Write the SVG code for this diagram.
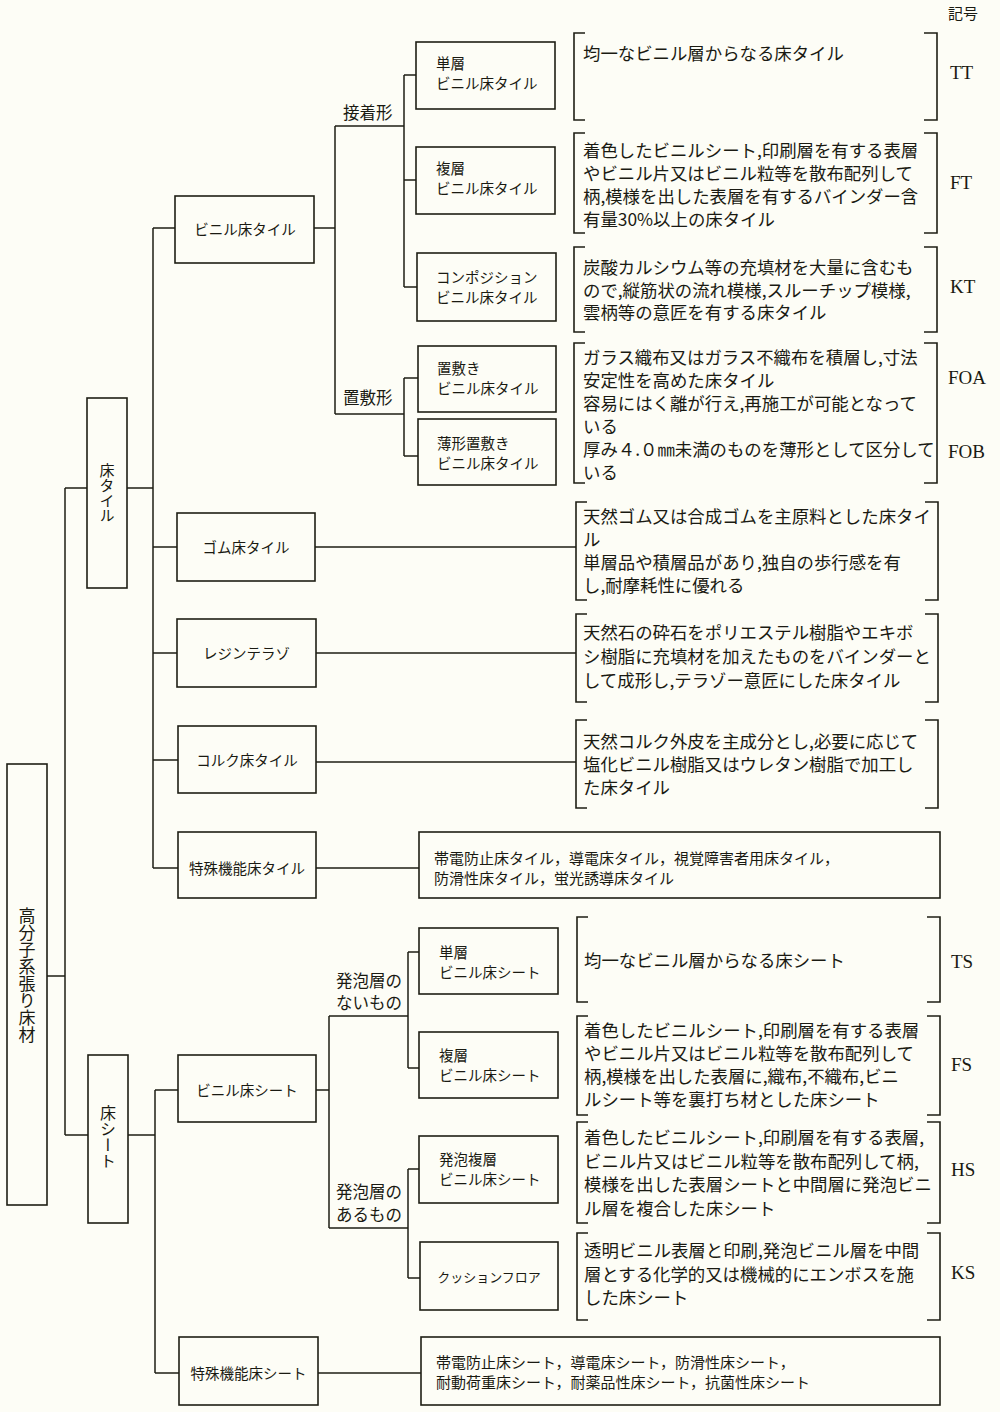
<svg xmlns="http://www.w3.org/2000/svg" width="1000" height="1412" viewBox="0 0 1000 1412">
<style>
.bg{fill:#fdfdf6}
.box{fill:none;stroke:#1e1e14;stroke-width:1.6}
.ln{fill:none;stroke:#1e1e14;stroke-width:1.5}
.br{fill:none;stroke:#1e1e14;stroke-width:1.6}
text{fill:#1a1a12;font-family:"Noto Sans CJK JP","Noto Sans CJK SC",sans-serif}
.lb{font-size:14.5px}
.lbc{font-size:14.5px;text-anchor:middle}
.sm{font-size:13px;text-anchor:middle}
.grp{font-size:16.5px}
.d{font-size:17.4px}
.d2{font-size:15px}
.sym{font-family:"Liberation Serif",serif;font-size:19px}
.hd{font-size:15px}
.v{writing-mode:vertical-rl;text-anchor:middle}
</style>
<rect class="bg" x="0" y="0" width="1000" height="1412"/>

<g id="connectors">
<path class="ln" d="M47 976 H65 M65 488 V1135 M65 488 H87 M65 1135 H88"/>
<path class="ln" d="M127 488 H153 M153 228 V868 M153 228 H175 M153 547 H177 M153 653 H177 M153 760 H178 M153 868 H178"/>
<path class="ln" d="M314 228 H335 M335 126 V414 M335 126 H404 M335 414 H404"/>
<path class="ln" d="M404 75 V287 M404 75 H416 M404 180 H416 M404 287 H417"/>
<path class="ln" d="M404 378 V456 M404 378 H418 M404 456 H418"/>
<path class="ln" d="M315 547 H576 M316 653 H576 M316 762 H576 M316 868 H419"/>
<path class="ln" d="M128 1135 H155 M155 1090 V1373 M155 1090 H178 M155 1373 H179"/>
<path class="ln" d="M316 1090 H329 M329 1016 V1228 M329 1016 H408 M329 1228 H408"/>
<path class="ln" d="M408 952 V1068 M408 952 H419 M408 1068 H419"/>
<path class="ln" d="M408 1169 V1278 M408 1169 H419 M408 1278 H420"/>
<path class="ln" d="M318 1373 H421"/>
</g>

<g id="n-root">
<rect class="box" x="7" y="764" width="40" height="441"/>
<text class="v" x="27" y="975" style="font-size:17px">高分子系張り床材</text>
</g>
<g id="n-tile">
<rect class="box" x="87" y="398" width="40" height="190"/>
<text class="v" x="107" y="493" style="font-size:15px">床タイル</text>
</g>
<g id="n-sheet">
<rect class="box" x="88" y="1055" width="40" height="168"/>
<text class="v" x="108" y="1137" style="font-size:16px">床シート</text>
</g>

<g id="n-vinyl-tile">
<rect class="box" x="175" y="196" width="139" height="67"/>
<text class="lbc" x="245" y="235">ビニル床タイル</text>
</g>
<g id="g-adhesive"><text class="grp" x="343" y="119">接着形</text></g>
<g id="g-loose"><text class="grp" x="343" y="404">置敷形</text></g>

<g id="n-tt">
<rect class="box" x="416" y="42" width="139" height="67"/>
<text class="lb" x="436" y="68.5">単層</text>
<text class="lb" x="436" y="88.5">ビニル床タイル</text>
</g>
<g id="n-ft">
<rect class="box" x="416" y="147" width="139" height="67"/>
<text class="lb" x="436" y="173.5">複層</text>
<text class="lb" x="436" y="193.5">ビニル床タイル</text>
</g>
<g id="n-kt">
<rect class="box" x="417" y="253" width="139" height="68"/>
<text class="lb" x="436" y="282.5">コンポジション</text>
<text class="lb" x="436" y="302.5">ビニル床タイル</text>
</g>
<g id="n-foa">
<rect class="box" x="418" y="346" width="138" height="66"/>
<text class="lb" x="437" y="373.5">置敷き</text>
<text class="lb" x="437" y="393.5">ビニル床タイル</text>
</g>
<g id="n-fob">
<rect class="box" x="418" y="419" width="138" height="66"/>
<text class="lb" x="437" y="448.5">薄形置敷き</text>
<text class="lb" x="437" y="468.5">ビニル床タイル</text>
</g>

<g id="n-rubber">
<rect class="box" x="177" y="513" width="138" height="68"/>
<text class="lbc" x="246" y="552.5">ゴム床タイル</text>
</g>
<g id="n-resin">
<rect class="box" x="177" y="619" width="139" height="68"/>
<text class="lbc" x="246.5" y="658.5">レジンテラゾ</text>
</g>
<g id="n-cork">
<rect class="box" x="178" y="726" width="138" height="67"/>
<text class="lbc" x="247" y="765.5">コルク床タイル</text>
</g>
<g id="n-special-tile">
<rect class="box" x="178" y="832" width="138" height="66"/>
<text class="lbc" x="247" y="873.5">特殊機能床タイル</text>
</g>

<g id="n-vinyl-sheet">
<rect class="box" x="178" y="1055" width="138" height="67"/>
<text class="lbc" x="247" y="1096">ビニル床シート</text>
</g>
<g id="g-nofoam"><text class="grp" x="336" y="987">発泡層の</text><text class="grp" x="336" y="1009">ないもの</text></g>
<g id="g-foam"><text class="grp" x="336" y="1198">発泡層の</text><text class="grp" x="336" y="1221">あるもの</text></g>
<g id="n-ts">
<rect class="box" x="419" y="928" width="139" height="66"/>
<text class="lb" x="439" y="957.5">単層</text>
<text class="lb" x="439" y="977.5">ビニル床シート</text>
</g>
<g id="n-fs">
<rect class="box" x="419" y="1032" width="139" height="66"/>
<text class="lb" x="439" y="1060.5">複層</text>
<text class="lb" x="439" y="1080.5">ビニル床シート</text>
</g>
<g id="n-hs">
<rect class="box" x="419" y="1136" width="139" height="67"/>
<text class="lb" x="439" y="1164.5">発泡複層</text>
<text class="lb" x="439" y="1184.5">ビニル床シート</text>
</g>
<g id="n-ks">
<rect class="box" x="420" y="1242" width="138" height="68"/>
<text class="sm" x="489" y="1282">クッションフロア</text>
</g>
<g id="n-special-sheet">
<rect class="box" x="179" y="1337" width="139" height="68"/>
<text class="lbc" x="248.5" y="1378.5">特殊機能床シート</text>
</g>

<g id="hdr"><text class="hd" x="948" y="19">記号</text></g>

<g id="d-tt">
<path class="br" d="M585 33 H574 V120 H585 M924 33 H937 V120 H924"/>
<text class="d" x="583" y="59.5">均一なビニル層からなる床タイル</text>
<text class="sym" x="950" y="79">TT</text>
</g>
<g id="d-ft">
<path class="br" d="M585 133 H574 V233 H585 M924 133 H937 V233 H924"/>
<text class="d" x="583" y="156.5">着色したビニルシート,印刷層を有する表層</text>
<text class="d" x="583" y="179.5">やビニル片又はビニル粒等を散布配列して</text>
<text class="d" x="583" y="202.5">柄,模様を出した表層を有するバインダー含</text>
<text class="d" x="583" y="225.5">有量30%以上の床タイル</text>
<text class="sym" x="950" y="189">FT</text>
</g>
<g id="d-kt">
<path class="br" d="M585 247 H574 V332 H585 M924 247 H937 V332 H924"/>
<text class="d" x="583" y="273.5">炭酸カルシウム等の充填材を大量に含むも</text>
<text class="d" x="583" y="296.5">ので,縦筋状の流れ模様,スルーチップ模様,</text>
<text class="d" x="583" y="319">雲柄等の意匠を有する床タイル</text>
<text class="sym" x="950" y="293">KT</text>
</g>
<g id="d-fo">
<path class="br" d="M585 343 H574 V483 H585 M924 343 H937 V483 H924"/>
<text class="d" x="583" y="364">ガラス織布又はガラス不織布を積層し,寸法</text>
<text class="d" x="583" y="387">安定性を高めた床タイル</text>
<text class="d" x="583" y="410">容易にはく離が行え,再施工が可能となって</text>
<text class="d" x="583" y="433">いる</text>
<text class="d" x="583" y="456">厚み４.０㎜未満のものを薄形として区分して</text>
<text class="d" x="583" y="479">いる</text>
<text class="sym" x="948" y="384">FOA</text>
<text class="sym" x="948" y="458">FOB</text>
</g>
<g id="d-rubber">
<path class="br" d="M587 502 H576 V600 H587 M925 502 H938 V600 H925"/>
<text class="d" x="583" y="522.5">天然ゴム又は合成ゴムを主原料とした床タイ</text>
<text class="d" x="583" y="545.5">ル</text>
<text class="d" x="583" y="568.5">単層品や積層品があり,独自の歩行感を有</text>
<text class="d" x="583" y="591.5">し,耐摩耗性に優れる</text>
</g>
<g id="d-resin">
<path class="br" d="M587 614 H576 V702 H587 M925 614 H938 V702 H925"/>
<text class="d" x="583" y="639">天然石の砕石をポリエステル樹脂やエキボ</text>
<text class="d" x="583" y="663">シ樹脂に充填材を加えたものをバインダーと</text>
<text class="d" x="583" y="687">して成形し,テラゾー意匠にした床タイル</text>
</g>
<g id="d-cork">
<path class="br" d="M587 720 H576 V808 H587 M925 720 H938 V808 H925"/>
<text class="d" x="583" y="747.5">天然コルク外皮を主成分とし,必要に応じて</text>
<text class="d" x="583" y="770.5">塩化ビニル樹脂又はウレタン樹脂で加工し</text>
<text class="d" x="583" y="793.5">た床タイル</text>
</g>
<g id="d-special-tile">
<rect class="box" x="419" y="832" width="521" height="66"/>
<text class="d2" x="434" y="863.5">帯電防止床タイル，導電床タイル，視覚障害者用床タイル，</text>
<text class="d2" x="434" y="884">防滑性床タイル，蛍光誘導床タイル</text>
</g>

<g id="d-ts">
<path class="br" d="M588 917 H577 V1002 H588 M927 917 H940 V1002 H927"/>
<text class="d" x="584" y="966.5">均一なビニル層からなる床シート</text>
<text class="sym" x="951" y="968">TS</text>
</g>
<g id="d-fs">
<path class="br" d="M588 1016 H577 V1115 H588 M927 1016 H940 V1115 H927"/>
<text class="d" x="584" y="1036.5">着色したビニルシート,印刷層を有する表層</text>
<text class="d" x="584" y="1059.5">やビニル片又はビニル粒等を散布配列して</text>
<text class="d" x="584" y="1083">柄,模様を出した表層に,織布,不織布,ビニ</text>
<text class="d" x="584" y="1106">ルシート等を裏打ち材とした床シート</text>
<text class="sym" x="951" y="1071">FS</text>
</g>
<g id="d-hs">
<path class="br" d="M588 1122 H577 V1223 H588 M927 1122 H940 V1223 H927"/>
<text class="d" x="584" y="1144">着色したビニルシート,印刷層を有する表層,</text>
<text class="d" x="584" y="1167.5">ビニル片又はビニル粒等を散布配列して柄,</text>
<text class="d" x="584" y="1191">模様を出した表層シートと中間層に発泡ビニ</text>
<text class="d" x="584" y="1214.5">ル層を複合した床シート</text>
<text class="sym" x="951" y="1176">HS</text>
</g>
<g id="d-ks">
<path class="br" d="M588 1233 H577 V1320 H588 M927 1233 H940 V1320 H927"/>
<text class="d" x="584" y="1256.5">透明ビニル表層と印刷,発泡ビニル層を中間</text>
<text class="d" x="584" y="1280.5">層とする化学的又は機械的にエンボスを施</text>
<text class="d" x="584" y="1304">した床シート</text>
<text class="sym" x="951" y="1279">KS</text>
</g>
<g id="d-special-sheet">
<rect class="box" x="421" y="1337" width="519" height="68"/>
<text class="d2" x="436" y="1367.5">帯電防止床シート，導電床シート，防滑性床シート，</text>
<text class="d2" x="436" y="1388">耐動荷重床シート，耐薬品性床シート，抗菌性床シート</text>
</g>
</svg>
